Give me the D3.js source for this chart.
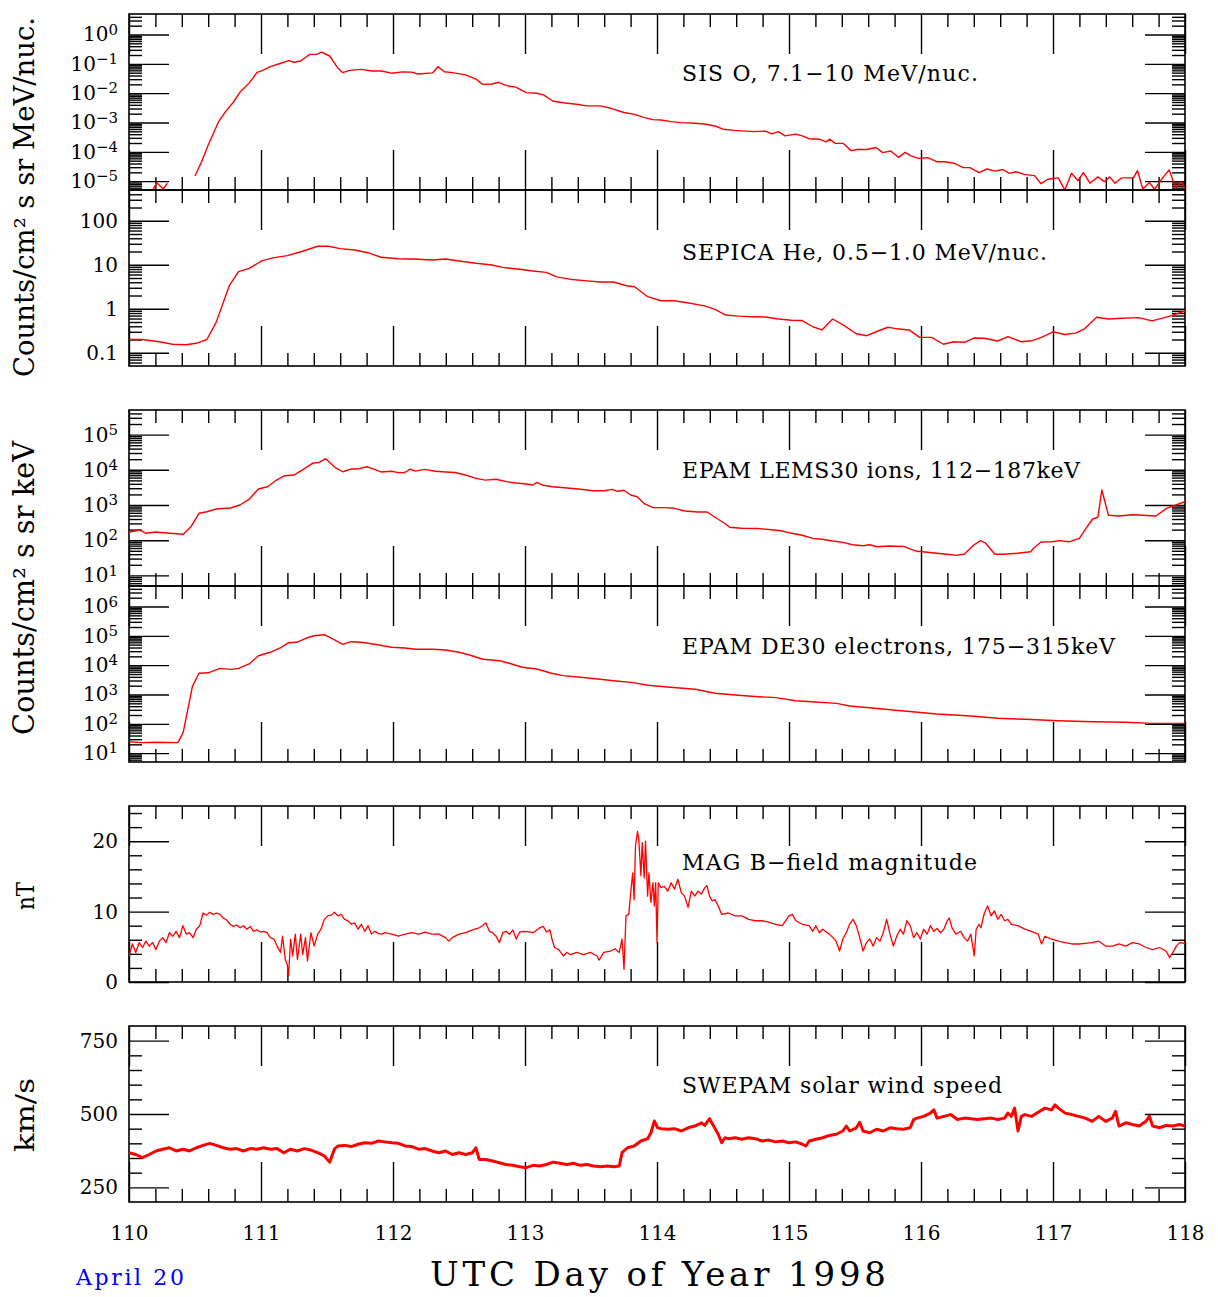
<!DOCTYPE html>
<html>
<head>
<meta charset="utf-8">
<script src="https://cdn.jsdelivr.net/npm/d3@7"></script>
<style>
  body { margin: 0; background: #fff; }
  svg text { font-family: "DejaVu Serif", serif; fill: #000; }
</style>
</head>
<body>
<svg id="chart" width="1218" height="1297"></svg>
<script>
// day-of-year tick labels
const dayTicks = [110, 111, 112, 113, 114, 115, 116, 117, 118];

// SIS O, 7.1-10 MeV/nuc (null = data gap)
const sisO = [
  [110.18,5.0e-6],[110.21,8.9e-6],[110.26,5.4e-6],[110.29,8.5e-6],[110.40,null],
  [110.50,1.5e-5],[110.55,4.6e-5],[110.60,1.7e-4],[110.64,4.3e-4],[110.68,1.1e-3],[110.73,2.3e-3],
  [110.79,4.9e-3],[110.84,1.07e-2],[110.91,2.2e-2],[110.97,5.1e-2],[111.01,5.9e-2],[111.07,8.0e-2],
  [111.15,0.105],[111.21,0.128],[111.25,0.113],[111.30,0.125],[111.37,0.21],[111.42,0.21],[111.46,0.25],
  [111.52,0.185],[111.58,7.4e-2],[111.62,5.0e-2],[111.67,6.0e-2],[111.76,6.5e-2],[111.84,5.7e-2],
  [111.91,5.7e-2],[111.99,4.8e-2],[112.07,5.3e-2],[112.14,5.2e-2],[112.19,4.5e-2],[112.30,4.9e-2],
  [112.34,8.0e-2],[112.39,5.4e-2],[112.45,5.0e-2],[112.55,4.2e-2],[112.63,3.0e-2],[112.68,2.0e-2],
  [112.75,2.06e-2],[112.80,2.35e-2],[112.86,1.8e-2],[112.93,1.6e-2],[113.01,1.04e-2],[113.09,9.9e-3],
  [113.14,8.7e-3],[113.21,5.4e-3],[113.29,4.7e-3],[113.39,4.2e-3],[113.47,3.7e-3],[113.57,3.7e-3],
  [113.65,3.05e-3],[113.75,2.2e-3],[113.83,1.9e-3],[113.90,1.5e-3],[113.97,1.25e-3],[114.03,1.22e-3],
  [114.11,1.07e-3],[114.18,9.9e-4],[114.29,9.4e-4],[114.36,8.9e-4],[114.44,7.6e-4],[114.50,5.9e-4],
  [114.59,5.4e-4],[114.67,5.1e-4],[114.74,4.9e-4],[114.82,5.1e-4],[114.87,4.1e-4],[114.92,4.9e-4],
  [114.97,3.5e-4],[115.05,4.0e-4],[115.10,3.5e-4],[115.15,2.8e-4],[115.23,2.7e-4],[115.28,2.2e-4],
  [115.31,2.7e-4],[115.35,1.95e-4],[115.41,1.95e-4],[115.47,1.1e-4],[115.52,1.2e-4],[115.59,1.2e-4],
  [115.66,1.4e-4],[115.71,9.4e-5],[115.77,1.07e-4],[115.83,6.5e-5],[115.88,9.6e-5],[115.92,7.4e-5],
  [115.98,6.0e-5],[116.05,6.3e-5],[116.12,4.6e-5],[116.18,4.6e-5],[116.25,4.1e-5],[116.32,2.9e-5],
  [116.37,2.9e-5],[116.44,1.95e-5],[116.50,2.6e-5],[116.56,2.2e-5],[116.62,2.5e-5],[116.67,1.85e-5],
  [116.72,2.1e-5],[116.78,1.7e-5],[116.86,1.54e-5],[116.91,8.2e-6],[116.96,1.16e-5],[117.04,1.3e-5],
  [117.09,5.0e-6],[117.14,1.85e-5],[117.19,1.04e-5],[117.23,1.95e-5],[117.28,8.5e-6],[117.34,1.4e-5],
  [117.39,9.6e-6],[117.43,1.4e-5],[117.47,8.5e-6],[117.52,1.3e-5],[117.61,1.3e-5],[117.64,2.3e-5],
  [117.68,5.4e-6],[117.73,8.9e-6],[117.77,5.3e-6],[117.83,1.3e-5],[117.88,2.4e-5],[117.93,5.7e-6],
  [117.97,9.6e-6],[118.00,5.7e-6]
];

// SEPICA He, 0.5-1.0 MeV/nuc
const sepicaHe = [
  [110.00,0.20],[110.10,0.20],[110.23,0.178],[110.33,0.156],[110.43,0.152],[110.51,0.164],[110.59,0.20],
  [110.66,0.49],[110.76,3.34],[110.83,6.95],[110.91,8.3],[111.01,12.4],[111.10,14.5],[111.20,16.1],
  [111.32,20.5],[111.43,26.3],[111.51,26.3],[111.60,23.2],[111.71,21.6],[111.81,18.8],[111.91,14.8],
  [112.04,13.7],[112.19,13.3],[112.30,12.8],[112.40,13.5],[112.50,12.2],[112.63,10.8],[112.75,9.9],
  [112.83,8.7],[112.96,7.9],[113.06,7.2],[113.16,6.7],[113.24,5.3],[113.34,4.7],[113.47,4.3],[113.57,4.06],
  [113.67,4.06],[113.77,3.34],[113.83,3.17],[113.93,1.88],[114.03,1.52],[114.13,1.52],[114.23,1.37],
  [114.36,1.16],[114.44,0.97],[114.52,0.72],[114.62,0.68],[114.72,0.66],[114.82,0.65],[114.92,0.585],
  [115.02,0.55],[115.10,0.54],[115.18,0.39],[115.25,0.33],[115.33,0.585],[115.41,0.43],[115.51,0.27],
  [115.59,0.244],[115.66,0.30],[115.75,0.38],[115.82,0.35],[115.91,0.33],[115.99,0.224],[116.08,0.224],
  [116.17,0.156],[116.25,0.178],[116.33,0.173],[116.40,0.216],[116.48,0.213],[116.58,0.185],[116.66,0.232],
  [116.76,0.178],[116.84,0.188],[116.91,0.22],[117.00,0.30],[117.09,0.26],[117.17,0.28],[117.24,0.35],
  [117.33,0.64],[117.42,0.585],[117.52,0.61],[117.65,0.63],[117.75,0.53],[117.88,0.67],[118.00,0.89]
];

// EPAM LEMS30 ions, 112-187 keV
const lems30 = [
  [110.00,168],[110.08,195],[110.13,157],[110.20,171],[110.31,157],[110.41,147],[110.47,242],[110.53,581],
  [110.59,645],[110.66,771],[110.77,822],[110.84,1000],[110.91,1450],[110.98,2850],[111.05,3310],
  [111.11,4900],[111.18,6800],[111.25,7100],[111.32,10300],[111.39,15300],[111.44,16300],[111.49,20700],
  [111.56,11800],[111.62,8800],[111.68,10500],[111.73,10500],[111.80,12200],[111.84,11000],[111.91,8700],
  [111.99,9100],[112.04,8300],[112.09,8400],[112.13,10500],[112.17,9200],[112.24,10300],[112.32,9100],
  [112.40,8700],[112.47,8400],[112.55,7100],[112.63,5700],[112.70,5100],[112.78,5400],[112.86,4600],
  [112.93,4200],[113.01,3950],[113.06,3700],[113.09,4400],[113.14,3630],[113.21,3310],[113.32,3040],
  [113.42,2790],[113.52,2550],[113.60,2550],[113.66,2790],[113.70,2450],[113.75,2620],[113.80,1920],
  [113.85,1720],[113.90,1120],[113.97,840],[114.06,840],[114.13,805],[114.21,676],[114.31,632],[114.38,632],
  [114.44,448],[114.52,289],[114.55,233],[114.64,218],[114.77,214],[114.87,199],[114.94,186],[115.02,157],
  [115.10,138],[115.18,113],[115.25,106],[115.33,95],[115.41,87],[115.48,74.5],[115.56,69.8],[115.61,74.5],
  [115.67,65.3],[115.76,68.4],[115.87,67],[115.92,56],[115.97,48.4],[116.05,45.3],[116.12,42.5],
  [116.20,39.8],[116.27,37.2],[116.33,40.6],[116.40,73],[116.45,97],[116.49,82],[116.56,39.8],[116.63,39.8],
  [116.73,42.5],[116.83,47],[116.86,63],[116.91,89],[116.99,90],[117.05,97],[117.12,90],[117.20,113],
  [117.25,218],[117.30,400],[117.34,448],[117.37,2670],[117.42,510],[117.50,488],[117.60,531],[117.68,510],
  [117.78,488],[117.86,805],[117.93,1000],[118.00,1240]
];

// EPAM DE30 electrons, 175-315 keV
const de30 = [
  [110.00,24.6],[110.10,22.8],[110.20,23.5],[110.37,22.8],[110.41,50],[110.45,384],[110.48,1850],
  [110.53,5300],[110.60,5500],[110.69,7800],[110.77,7200],[110.83,7800],[110.91,11000],[110.98,21000],
  [111.07,27500],[111.15,39400],[111.21,58300],[111.27,60300],[111.34,82600],[111.40,101000],
  [111.48,109000],[111.55,76200],[111.62,51500],[111.68,63200],[111.76,60300],[111.86,51500],
  [111.99,40700],[112.09,38500],[112.17,34800],[112.30,34800],[112.40,33000],[112.50,27500],
  [112.58,22200],[112.68,15900],[112.81,14200],[112.88,11600],[112.98,8500],[113.09,7400],[113.20,5300],
  [113.29,4400],[113.42,3860],[113.57,3300],[113.67,2960],[113.82,2530],[113.93,2060],[114.08,1800],
  [114.29,1510],[114.44,1100],[114.59,960],[114.77,840],[114.90,780],[115.05,615],[115.20,556],
  [115.36,500],[115.46,406],[115.61,355],[115.87,274],[116.12,217],[116.38,185],[116.58,155],
  [116.79,143],[117.04,128],[117.30,118],[117.55,113],[117.75,104],[118.00,104]
];

// MAG |B| (nT)
const magB = [
  [110.000,3.7],[110.026,5.4],[110.051,4.2],[110.077,5.6],[110.102,4.9],[110.128,5.8],[110.153,5.1],
  [110.179,5.6],[110.204,4.6],[110.230,5.8],[110.255,6.3],[110.281,5.6],[110.306,7.0],[110.332,6.5],
  [110.357,7.2],[110.383,6.3],[110.408,8.0],[110.434,6.8],[110.459,7.0],[110.485,6.3],[110.510,7.5],
  [110.536,8.0],[110.561,9.8],[110.587,9.5],[110.612,9.9],[110.638,9.6],[110.663,9.8],[110.689,9.6],
  [110.714,9.1],[110.740,8.8],[110.765,8.2],[110.791,7.9],[110.816,8.1],[110.842,7.7],[110.867,8.0],
  [110.893,7.5],[110.918,7.9],[110.944,7.2],[110.969,7.4],[110.995,7.1],[111.020,7.2],[111.046,7.0],
  [111.071,6.3],[111.097,6.1],[111.122,5.1],[111.148,4.2],[111.163,6.5],[111.184,3.2],[111.199,2.5],
  [111.209,0.9],[111.224,6.1],[111.240,3.7],[111.260,6.8],[111.276,3.2],[111.301,6.8],[111.316,3.9],
  [111.337,6.3],[111.352,3.0],[111.378,7.0],[111.403,5.1],[111.429,6.8],[111.454,7.5],[111.480,8.9],
  [111.505,9.4],[111.531,9.5],[111.556,9.9],[111.582,9.4],[111.607,9.6],[111.633,8.9],[111.658,8.7],
  [111.684,8.2],[111.709,8.4],[111.735,7.5],[111.760,8.2],[111.786,7.2],[111.811,8.0],[111.837,6.8],
  [111.862,7.2],[111.888,6.9],[111.913,6.8],[111.939,7.0],[111.990,6.8],[112.041,6.5],[112.092,6.8],
  [112.143,7.0],[112.194,6.8],[112.245,7.1],[112.296,6.8],[112.347,6.8],[112.398,6.3],[112.423,5.8],
  [112.449,6.3],[112.500,6.8],[112.551,7.0],[112.602,7.4],[112.653,7.7],[112.679,8.0],[112.704,8.4],
  [112.730,7.2],[112.755,7.0],[112.781,6.5],[112.806,5.6],[112.832,7.0],[112.857,7.2],[112.883,6.8],
  [112.908,7.4],[112.934,6.1],[112.959,7.1],[113.010,7.2],[113.061,7.0],[113.112,7.7],[113.138,7.9],
  [113.163,7.1],[113.189,7.4],[113.204,6.1],[113.224,4.9],[113.255,4.6],[113.291,3.7],[113.316,4.2],
  [113.342,3.9],[113.393,4.2],[113.444,3.9],[113.495,4.2],[113.546,3.7],[113.561,3.1],[113.597,4.2],
  [113.648,4.4],[113.684,4.7],[113.714,4.2],[113.735,6.1],[113.750,1.8],[113.765,9.4],[113.786,9.6],
  [113.801,12.7],[113.816,15.5],[113.827,11.7],[113.837,19.3],[113.852,21.4],[113.862,20.3],[113.878,15.1],
  [113.888,19.8],[113.903,14.8],[113.913,20.0],[113.929,12.2],[113.939,15.5],[113.954,11.3],[113.969,14.1],
  [113.980,10.8],[113.990,14.1],[114.000,5.6],[114.010,14.1],[114.031,13.4],[114.056,13.6],[114.082,12.9],
  [114.107,14.1],[114.133,13.2],[114.158,14.6],[114.184,12.7],[114.209,12.2],[114.235,10.6],[114.260,12.9],
  [114.286,12.2],[114.311,12.9],[114.337,12.5],[114.362,13.4],[114.378,13.7],[114.398,12.2],[114.418,11.5],
  [114.439,11.7],[114.464,10.8],[114.490,9.6],[114.541,9.8],[114.592,9.4],[114.643,9.4],[114.694,8.9],
  [114.745,8.7],[114.796,8.7],[114.847,8.5],[114.898,8.2],[114.949,8.0],[115.000,9.4],[115.026,9.6],
  [115.051,8.7],[115.102,8.2],[115.153,8.0],[115.179,7.2],[115.204,8.0],[115.230,7.0],[115.255,7.5],
  [115.306,6.8],[115.332,6.3],[115.357,5.8],[115.383,4.4],[115.408,6.1],[115.434,7.0],[115.459,8.2],
  [115.485,8.9],[115.510,8.0],[115.536,6.3],[115.561,4.4],[115.587,5.6],[115.612,6.1],[115.638,5.1],
  [115.663,6.3],[115.689,5.8],[115.714,7.0],[115.740,8.9],[115.765,6.8],[115.791,5.1],[115.816,6.5],
  [115.842,7.5],[115.867,6.8],[115.893,8.7],[115.918,8.0],[115.944,6.3],[115.969,7.0],[115.995,6.1],
  [116.020,7.5],[116.046,6.8],[116.071,8.0],[116.097,7.2],[116.122,7.6],[116.148,7.0],[116.173,7.5],
  [116.199,8.7],[116.214,9.1],[116.235,7.7],[116.265,6.8],[116.301,7.2],[116.327,6.3],[116.352,5.8],
  [116.378,6.8],[116.403,3.7],[116.418,7.5],[116.439,8.2],[116.454,7.7],[116.480,9.8],[116.505,10.8],
  [116.531,9.4],[116.556,10.1],[116.582,8.9],[116.607,9.6],[116.633,8.7],[116.658,8.9],[116.684,8.2],
  [116.735,8.0],[116.786,7.5],[116.837,7.2],[116.888,6.8],[116.913,5.4],[116.939,6.5],[116.990,6.1],
  [117.041,5.8],[117.092,5.6],[117.143,5.4],[117.194,5.4],[117.245,5.5],[117.296,5.6],[117.347,5.8],
  [117.398,5.1],[117.449,5.1],[117.500,5.4],[117.551,5.1],[117.602,5.6],[117.653,5.4],[117.704,4.9],
  [117.755,4.6],[117.806,4.9],[117.857,4.4],[117.883,3.5],[117.908,4.2],[117.934,5.1],[117.959,5.6],
  [118.000,5.5]
];

// SWEPAM solar wind speed (km/s)
const swSpeed = [
  [110.000,368],[110.051,362],[110.102,351],[110.153,362],[110.204,374],[110.255,380],[110.306,385],
  [110.357,374],[110.408,380],[110.459,374],[110.510,385],[110.561,393],[110.612,400],[110.663,393],
  [110.714,385],[110.765,380],[110.816,382],[110.867,374],[110.918,382],[110.969,380],[111.020,385],
  [111.071,380],[111.122,382],[111.173,368],[111.224,380],[111.276,374],[111.327,382],[111.378,377],
  [111.429,368],[111.480,357],[111.520,336],[111.556,380],[111.582,391],[111.633,393],[111.684,389],
  [111.735,397],[111.786,402],[111.837,400],[111.888,408],[111.939,405],[111.990,402],[112.041,400],
  [112.092,391],[112.143,389],[112.194,380],[112.245,382],[112.296,374],[112.347,368],[112.398,374],
  [112.449,362],[112.500,368],[112.551,362],[112.602,368],[112.628,385],[112.653,345],[112.704,345],
  [112.755,340],[112.806,334],[112.857,328],[112.908,325],[112.959,320],[113.010,317],[113.061,325],
  [113.112,323],[113.163,328],[113.214,336],[113.265,332],[113.316,328],[113.367,332],[113.418,325],
  [113.469,328],[113.520,323],[113.571,320],[113.622,323],[113.673,320],[113.714,323],[113.735,368],
  [113.776,385],[113.827,391],[113.878,408],[113.929,416],[113.954,436],[113.980,476],[114.005,453],
  [114.031,450],[114.082,448],[114.133,450],[114.184,442],[114.235,453],[114.286,459],[114.337,470],
  [114.362,461],[114.398,484],[114.429,459],[114.464,431],[114.490,402],[114.515,419],[114.541,416],
  [114.592,419],[114.643,414],[114.694,419],[114.745,416],[114.796,408],[114.847,411],[114.898,405],
  [114.949,408],[115.000,402],[115.051,405],[115.102,397],[115.128,391],[115.153,408],[115.204,414],
  [115.255,419],[115.306,427],[115.357,431],[115.408,442],[115.434,459],[115.459,442],[115.510,453],
  [115.536,472],[115.561,442],[115.612,436],[115.663,448],[115.714,442],[115.765,453],[115.816,450],
  [115.867,448],[115.918,453],[115.944,481],[115.969,486],[116.020,492],[116.071,503],[116.097,514],
  [116.122,486],[116.173,492],[116.224,498],[116.276,481],[116.327,486],[116.378,484],[116.429,481],
  [116.480,484],[116.531,486],[116.582,481],[116.633,486],[116.658,503],[116.684,492],[116.709,520],
  [116.735,442],[116.760,492],[116.786,498],[116.837,492],[116.888,506],[116.939,520],[116.990,514],
  [117.015,531],[117.041,520],[117.092,503],[117.143,498],[117.194,492],[117.245,486],[117.296,475],
  [117.347,492],[117.398,475],[117.449,486],[117.474,509],[117.500,459],[117.551,470],[117.602,464],
  [117.653,459],[117.704,475],[117.730,492],[117.755,459],[117.806,453],[117.857,461],[117.908,459],
  [117.959,464],[118.000,459]
];

// y tick values and labels per panel
const sisTicks = [1e-5, 1e-4, 1e-3, 1e-2, 1e-1, 1];
const sepicaTicks = [0.1, 1, 10, 100];
const sepicaLabels = ["0.1", "1", "10", "100"];
const lemsTicks = [1e1, 1e2, 1e3, 1e4, 1e5];
const de30Ticks = [1e1, 1e2, 1e3, 1e4, 1e5, 1e6];
const magTicks = [0, 10, 20];
const magMinor = [2, 4, 6, 8, 12, 14, 16, 18, 22, 24];
const swTicks = [250, 500, 750];
const swMinor = [300, 350, 400, 450, 550, 600, 650, 700];

const L = 129, R = 1185, PH = 176;
const svg = d3.select("#chart");
const x = d3.scaleLinear().domain([110, 118]).range([L, R]);
const minorDays = d3.range(110.2, 118, 0.2).filter(d => Math.abs(d - Math.round(d)) > 0.01);

function logMinors(dom) {
  const out = [];
  for (let e = Math.floor(Math.log10(dom[0])); e <= Math.ceil(Math.log10(dom[1])); e++) {
    for (let m = 2; m <= 9; m++) {
      const v = m * Math.pow(10, e);
      if (v > dom[0] && v < dom[1]) out.push(v);
    }
  }
  return out;
}

const panels = [
  { top: 14, log: true, domain: [5e-6, 5], major: sisTicks, pow: true, data: sisO, title: "SIS O, 7.1\u221210 MeV/nuc.", titleY: 81, titleW: 296 },
  { top: 190, log: true, domain: [0.05, 500], major: sepicaTicks, labels: sepicaLabels, data: sepicaHe, title: "SEPICA He, 0.5\u22121.0 MeV/nuc.", titleY: 260, titleW: 365 },
  { top: 410, log: true, domain: [5, 5e5], major: lemsTicks, pow: true, data: lems30, title: "EPAM LEMS30 ions, 112\u2212187keV", titleY: 478, titleW: 398 },
  { top: 586, log: true, domain: [5, 5e6], major: de30Ticks, pow: true, data: de30, title: "EPAM DE30 electrons, 175\u2212315keV", titleY: 654, titleW: 433 },
  { top: 806, log: false, domain: [0, 25], major: magTicks, minor: magMinor, data: magB, title: "MAG B\u2212field magnitude", titleY: 870, titleW: 295, width: 1.3 },
  { top: 1026, log: false, domain: [200, 800], major: swTicks, minor: swMinor, data: swSpeed, title: "SWEPAM solar wind speed", titleY: 1093, titleW: 320, width: 3 }
];

function clean(g) {
  g.select(".domain").remove();
  g.selectAll(".tick line").attr("stroke", "#000").attr("stroke-width", 1.4);
}

panels.forEach((p, i) => {
  const g = svg.append("g");
  const y = (p.log ? d3.scaleLog() : d3.scaleLinear()).domain(p.domain).range([p.top + PH, p.top]);
  const minorY = p.log ? logMinors(p.domain) : p.minor;

  svg.append("clipPath").attr("id", "clip" + i)
    .append("rect").attr("x", L).attr("y", p.top).attr("width", R - L).attr("height", PH);

  // y ticks, left and right, pointing inward
  [[d3.axisLeft, L], [d3.axisRight, R]].forEach(([axis, xp]) => {
    g.append("g").attr("transform", `translate(${xp},0)`)
      .call(axis(y).tickValues(minorY).tickSize(-13).tickSizeOuter(0).tickFormat("")).call(clean);
    g.append("g").attr("transform", `translate(${xp},0)`)
      .call(axis(y).tickValues(p.major).tickSize(-40).tickSizeOuter(0).tickFormat("")).call(clean);
  });

  // x ticks, top and bottom
  [[d3.axisTop, p.top], [d3.axisBottom, p.top + PH]].forEach(([axis, yp]) => {
    g.append("g").attr("transform", `translate(0,${yp})`)
      .call(axis(x).tickValues(minorDays).tickSize(-13).tickSizeOuter(0).tickFormat("")).call(clean);
    g.append("g").attr("transform", `translate(0,${yp})`)
      .call(axis(x).tickValues(dayTicks).tickSize(-40).tickSizeOuter(0).tickFormat("")).call(clean);
  });

  // y tick labels
  const lab = g.append("g").attr("transform", `translate(${L},0)`)
    .call(d3.axisLeft(y).tickValues(p.major).tickSize(0).tickPadding(11)
      .tickFormat((d, j) => p.labels ? p.labels[j] : (p.pow ? "" : d)));
  lab.select(".domain").remove();
  lab.selectAll("line").remove();
  lab.attr("font-family", "DejaVu Serif").attr("font-size", 20);
  lab.selectAll("text").attr("fill", "#000");
  if (p.pow) {
    lab.selectAll(".tick text").each(function (d) {
      const t = d3.select(this);
      const e = Math.round(Math.log10(d));
      t.append("tspan").text("10");
      t.append("tspan").attr("dy", "-0.45em").attr("font-size", 15)
        .text(e < 0 ? "\u2212" + (-e) : String(e));
    });
  }

  // frame
  g.append("rect").attr("x", L).attr("y", p.top).attr("width", R - L).attr("height", PH)
    .attr("fill", "none").attr("stroke", "#000").attr("stroke-width", 1.6);

  // panel title
  g.append("text").attr("x", 682).attr("y", p.titleY).attr("font-size", 22)
    .attr("textLength", p.titleW).attr("lengthAdjust", "spacing").text(p.title);

  // data
  const line = d3.line().defined(d => d[1] != null).x(d => x(d[0])).y(d => y(d[1]));
  g.append("path").datum(p.data).attr("clip-path", `url(#clip${i})`)
    .attr("fill", "none").attr("stroke", "#ff0000").attr("stroke-width", p.width || 1.4)
    .attr("stroke-linejoin", "round").attr("d", line);
});

// x-axis day labels under the last panel
const xl = svg.append("g").attr("transform", `translate(0,${1026 + PH})`)
  .call(d3.axisBottom(x).tickValues(dayTicks).tickSize(0).tickPadding(24).tickFormat(d3.format("d")));
xl.select(".domain").remove();
xl.selectAll("line").remove();
xl.attr("font-family", "DejaVu Serif").attr("font-size", 20);
xl.selectAll("text").attr("fill", "#000");

// y-axis titles
function yTitle(txt, cy, len, size) {
  svg.append("text").attr("transform", `translate(34,${cy}) rotate(-90)`)
    .attr("text-anchor", "middle").attr("font-size", size)
    .attr("textLength", len).attr("lengthAdjust", "spacingAndGlyphs").text(txt);
}
yTitle("Counts/cm\u00b2 s sr MeV/nuc.", 197, 360, 27);
yTitle("Counts/cm\u00b2 s sr keV", 588, 294, 29);
yTitle("nT", 896, 28, 24);
yTitle("km/s", 1115, 74, 26);

svg.append("text").attr("x", 430).attr("y", 1286).attr("font-size", 34)
  .attr("textLength", 456).attr("lengthAdjust", "spacing").text("UTC Day of Year 1998");
svg.append("text").attr("x", 76).attr("y", 1285).attr("font-size", 22).style("fill", "#0000ff")
  .attr("textLength", 108).attr("lengthAdjust", "spacing").text("April 20");
</script>
</body>
</html>
